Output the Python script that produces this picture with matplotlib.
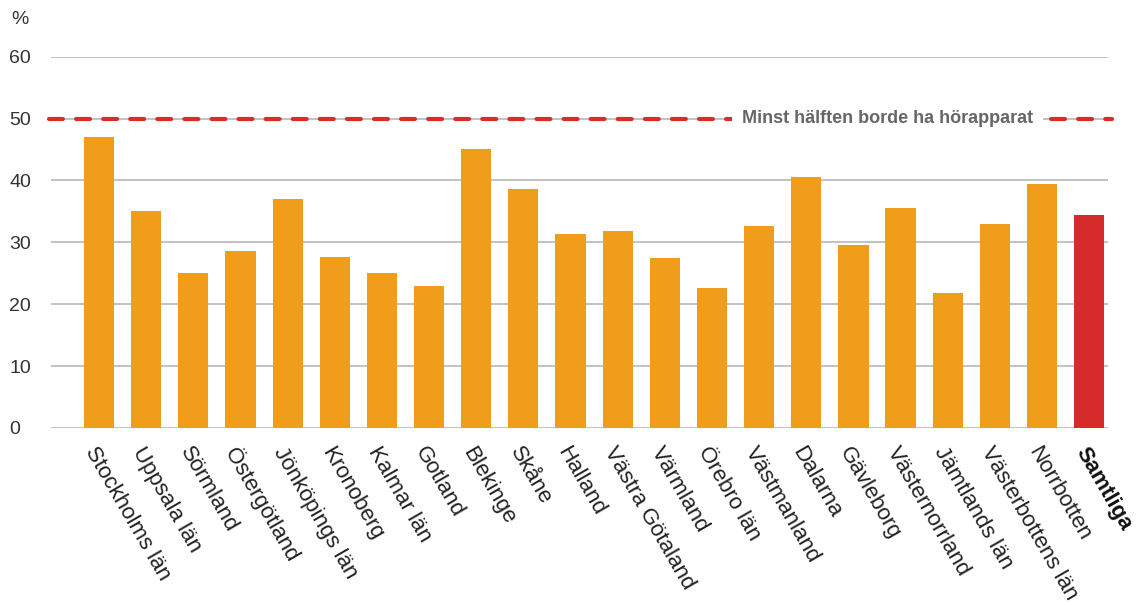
import matplotlib
matplotlib.use("Agg")
import matplotlib.pyplot as plt

plt.rcParams['font.family'] = ['Liberation Sans', 'DejaVu Sans']
plt.rcParams['lines.scale_dashes'] = False

categories = ["Stockholms län", "Uppsala län", "Sörmland", "Östergötland", "Jönköpings län",
              "Kronoberg", "Kalmar län", "Gotland", "Blekinge", "Skåne", "Halland",
              "Västra Götaland", "Värmland", "Örebro län", "Västmanland", "Dalarna",
              "Gävleborg", "Västernorrland", "Jämtlands län", "Västerbottens län",
              "Norrbotten", "Samtliga"]
values = [47.0, 35.1, 25.1, 28.6, 37.0, 27.6, 25.0, 22.9, 45.1, 38.7, 31.3,
          31.8, 27.4, 22.7, 32.7, 40.6, 29.5, 35.5, 21.8, 32.9, 39.5, 34.5]
yticks = [0, 10, 20, 30, 40, 50, 60]
threshold = 50
threshold_label = "Minst hälften borde ha hörapparat"

orange = "#f09d1c"
red = "#d62b2b"

fig = plt.figure(figsize=(11.38, 6.05), dpi=100)
ax = fig.add_axes([51/1138, 1-428/605, (1108-51)/1138, (428-56.7)/605])

x = list(range(len(categories)))
colors = [orange] * (len(categories) - 1) + [red]
ax.bar(x, values, width=0.64, color=colors, zorder=3)

ax.set_xlim(-1.02, len(categories) - 1 + 0.40)
ax.set_ylim(0, 60)
ax.set_yticks(yticks)
ax.set_yticklabels([str(t) for t in yticks])
ax.grid(axis='y', color='#b8b8b8', linewidth=1.2, zorder=0)
ax.set_axisbelow(True)
for s in ax.spines.values():
    s.set_visible(False)

ax.tick_params(axis='y', length=0, pad=30, labelsize=14, labelcolor='#333333')
for lab in ax.get_yticklabels():
    lab.set_horizontalalignment('left')

ax.set_xticks(x)
ax.set_xticklabels(categories)
ax.tick_params(axis='x', length=0, pad=11, labelsize=16, labelcolor='#222222')
for i, lab in enumerate(ax.get_xticklabels()):
    lab.set_rotation(-60)
    lab.set_horizontalalignment('left')
    lab.set_verticalalignment('top')
    lab.set_rotation_mode('anchor')
    if categories[i] == "Samtliga":
        lab.set_fontweight('bold')
        lab.set_color('#111111')

line, = ax.plot([-1.06, len(categories) - 1 + 0.48], [threshold, threshold],
                color='#dc2b2b', linewidth=3.0, solid_capstyle='round',
                dash_capstyle='round', zorder=4, clip_on=False)
line.set_dashes((10, 9.5))

ax.text(13.63, threshold, threshold_label, fontsize=13, fontweight='bold',
        color='#666666', ha='left', va='center', zorder=5,
        bbox=dict(facecolor='white', edgecolor='none', pad=7))

fig.text(11/1138, 1-19/605, "%", fontsize=14, color='#333333', ha='left', va='center')

fig.savefig("out.png", dpi=100)
